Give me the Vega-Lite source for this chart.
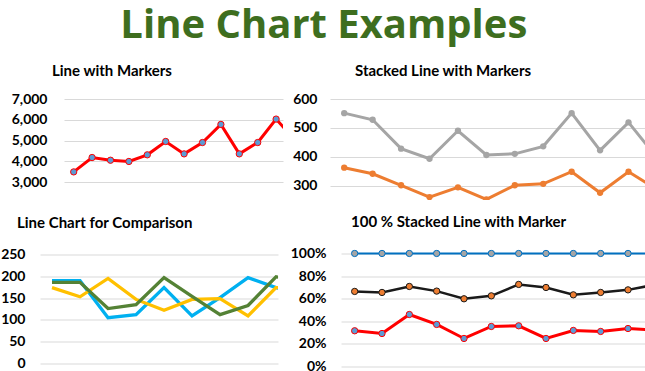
{
  "$schema": "https://vega.github.io/schema/vega-lite/v6.json",
  "padding": {"top": 5, "left": 0, "right": 0, "bottom": 0},
  "background": "white",
  "title": {"text": "Line Chart Examples", "font": "Open Sans", "fontSize": 40, "fontWeight": "bold", "color": "#3e6e1f", "anchor": "middle", "frame": "bounds", "offset": 18},
  "config": {
    "font": "Lato",
    "view": {"stroke": null},
    "axis": {"grid": true, "gridColor": "#d9d9d9", "gridWidth": 1, "domain": false, "ticks": false, "tickSize": 0, "labelFont": "Lato", "labelFontSize": 14, "labelFontWeight": "bold", "labelColor": "#000000", "title": null},
    "title": {"font": "Lato", "fontSize": 15, "fontWeight": "bold", "color": "#000000", "anchor": "start", "frame": "group"}
  },
  "resolve": {"scale": {"color": "independent", "stroke": "independent", "fill": "independent", "strokeWidth": "independent"}},
  "datasets": {
    "tl": [
      {"i": 1, "v": 3500}, {"i": 2, "v": 4190}, {"i": 3, "v": 4060}, {"i": 4, "v": 4000},
      {"i": 5, "v": 4320}, {"i": 6, "v": 4960}, {"i": 7, "v": 4365}, {"i": 8, "v": 4910},
      {"i": 9, "v": 5780}, {"i": 10, "v": 4365}, {"i": 11, "v": 4910}, {"i": 12, "v": 6035},
      {"i": 13, "v": 5060}
    ],
    "tr": [
      {"i": 1, "s": "Total", "v": 551}, {"i": 2, "s": "Total", "v": 528}, {"i": 3, "s": "Total", "v": 428},
      {"i": 4, "s": "Total", "v": 393}, {"i": 5, "s": "Total", "v": 490}, {"i": 6, "s": "Total", "v": 406},
      {"i": 7, "s": "Total", "v": 410}, {"i": 8, "s": "Total", "v": 436}, {"i": 9, "s": "Total", "v": 551},
      {"i": 10, "s": "Total", "v": 422}, {"i": 11, "s": "Total", "v": 519}, {"i": 12, "s": "Total", "v": 396},
      {"i": 1, "s": "Base", "v": 362}, {"i": 2, "s": "Base", "v": 341}, {"i": 3, "s": "Base", "v": 301},
      {"i": 4, "s": "Base", "v": 260}, {"i": 5, "s": "Base", "v": 294}, {"i": 6, "s": "Base", "v": 252},
      {"i": 7, "s": "Base", "v": 301}, {"i": 8, "s": "Base", "v": 306}, {"i": 9, "s": "Base", "v": 348},
      {"i": 10, "s": "Base", "v": 275}, {"i": 11, "s": "Base", "v": 348}, {"i": 12, "s": "Base", "v": 286}
    ],
    "bl": [
      {"i": 1, "s": "A", "v": 190}, {"i": 2, "s": "A", "v": 190}, {"i": 3, "s": "A", "v": 105}, {"i": 4, "s": "A", "v": 112},
      {"i": 5, "s": "A", "v": 174}, {"i": 6, "s": "A", "v": 109}, {"i": 7, "s": "A", "v": 151}, {"i": 8, "s": "A", "v": 197},
      {"i": 9, "s": "A", "v": 174}, {"i": 10, "s": "A", "v": 160},
      {"i": 1, "s": "B", "v": 174}, {"i": 2, "s": "B", "v": 153}, {"i": 3, "s": "B", "v": 195}, {"i": 4, "s": "B", "v": 147},
      {"i": 5, "s": "B", "v": 122}, {"i": 6, "s": "B", "v": 147}, {"i": 7, "s": "B", "v": 149}, {"i": 8, "s": "B", "v": 109},
      {"i": 9, "s": "B", "v": 174}, {"i": 10, "s": "B", "v": 185},
      {"i": 1, "s": "C", "v": 186}, {"i": 2, "s": "C", "v": 186}, {"i": 3, "s": "C", "v": 126}, {"i": 4, "s": "C", "v": 135},
      {"i": 5, "s": "C", "v": 197}, {"i": 6, "s": "C", "v": 154}, {"i": 7, "s": "C", "v": 112}, {"i": 8, "s": "C", "v": 133},
      {"i": 9, "s": "C", "v": 199}, {"i": 10, "s": "C", "v": 185}
    ],
    "br": [
      {"i": 1, "s": "Top", "v": 1}, {"i": 2, "s": "Top", "v": 1}, {"i": 3, "s": "Top", "v": 1}, {"i": 4, "s": "Top", "v": 1},
      {"i": 5, "s": "Top", "v": 1}, {"i": 6, "s": "Top", "v": 1}, {"i": 7, "s": "Top", "v": 1}, {"i": 8, "s": "Top", "v": 1},
      {"i": 9, "s": "Top", "v": 1}, {"i": 10, "s": "Top", "v": 1}, {"i": 11, "s": "Top", "v": 1}, {"i": 12, "s": "Top", "v": 1},
      {"i": 1, "s": "Mid", "v": 0.664}, {"i": 2, "s": "Mid", "v": 0.655}, {"i": 3, "s": "Mid", "v": 0.708}, {"i": 4, "s": "Mid", "v": 0.667},
      {"i": 5, "s": "Mid", "v": 0.599}, {"i": 6, "s": "Mid", "v": 0.625}, {"i": 7, "s": "Mid", "v": 0.726}, {"i": 8, "s": "Mid", "v": 0.699},
      {"i": 9, "s": "Mid", "v": 0.634}, {"i": 10, "s": "Mid", "v": 0.655}, {"i": 11, "s": "Mid", "v": 0.678}, {"i": 12, "s": "Mid", "v": 0.724},
      {"i": 1, "s": "Low", "v": 0.316}, {"i": 2, "s": "Low", "v": 0.292}, {"i": 3, "s": "Low", "v": 0.46}, {"i": 4, "s": "Low", "v": 0.372},
      {"i": 5, "s": "Low", "v": 0.248}, {"i": 6, "s": "Low", "v": 0.354}, {"i": 7, "s": "Low", "v": 0.36}, {"i": 8, "s": "Low", "v": 0.248},
      {"i": 9, "s": "Low", "v": 0.319}, {"i": 10, "s": "Low", "v": 0.31}, {"i": 11, "s": "Low", "v": 0.336}, {"i": 12, "s": "Low", "v": 0.323}
    ]
  },
  "spacing": 14.5,
  "vconcat": [
    {
      "spacing": 1,
      "resolve": {"scale": {"color": "independent", "stroke": "independent", "fill": "independent", "strokeWidth": "independent"}},
      "hconcat": [
        {
          "width": 243, "height": 101,
          "title": {"text": "Line with Markers", "dx": 12, "offset": 13.5},
          "data": {"name": "tl"},
          "encoding": {
            "x": {"field": "i", "type": "quantitative", "scale": {"domain": [-0.8315, 12.375], "nice": false, "zero": false}, "axis": null},
            "y": {"field": "v", "type": "quantitative", "scale": {"domain": [2150, 7000], "nice": false, "zero": false},
                  "axis": {"values": [3000, 4000, 5000, 6000, 7000], "format": ",.0f", "labelPadding": -7, "gridDash": [0, 24, 1000, 0]}}
          },
          "layer": [
            {"mark": {"type": "line", "stroke": "#ff0000", "strokeWidth": 3, "clip": true}},
            {"mark": {"type": "circle", "fill": "#5b9bd5", "stroke": "#ff0000", "strokeWidth": 1, "size": 40, "opacity": 1, "fillOpacity": 1, "clip": true}}
          ]
        },
        {
          "width": 317, "height": 101,
          "title": {"text": "Stacked Line with Markers", "dx": 25, "offset": 13.5},
          "data": {"name": "tr"},
          "encoding": {
            "x": {"field": "i", "type": "quantitative", "scale": {"domain": [0.5, 11.65], "nice": false, "zero": false}, "axis": null},
            "y": {"field": "v", "type": "quantitative", "scale": {"domain": [250, 600], "nice": false, "zero": false},
                  "axis": {"values": [300, 400, 500, 600], "labelPadding": 13, "minExtent": 46, "maxExtent": 46}},
            "color": {"field": "s", "type": "nominal", "scale": {"domain": ["Total", "Base"], "range": ["#a5a5a5", "#ed7d31"]}, "legend": null}
          },
          "layer": [
            {"mark": {"type": "line", "strokeWidth": 3, "clip": true}},
            {"mark": {"type": "circle", "size": 40, "opacity": 1, "clip": true}}
          ]
        }
      ]
    },
    {
      "spacing": 1,
      "resolve": {"scale": {"color": "independent", "stroke": "independent", "fill": "independent", "strokeWidth": "independent"}},
      "hconcat": [
        {
          "width": 238, "height": 114,
          "title": {"text": "Line Chart for Comparison", "dx": -23, "offset": 16.5},
          "data": {"name": "bl"},
          "encoding": {
            "x": {"field": "i", "type": "quantitative", "scale": {"domain": [0.571, 9.07], "nice": false, "zero": false}, "axis": null},
            "y": {"field": "v", "type": "quantitative", "scale": {"domain": [0, 261.5], "nice": false, "zero": false},
                  "axis": {"values": [0, 50, 100, 150, 200, 250], "labelPadding": 15, "minExtent": 38, "maxExtent": 38}},
            "color": {"field": "s", "type": "nominal", "scale": {"domain": ["A", "B", "C"], "range": ["#00b0f0", "#ffc000", "#548235"]}, "legend": null}
          },
          "layer": [
            {"mark": {"type": "line", "strokeWidth": 3.3, "clip": true}}
          ]
        },
        {
          "width": 306, "height": 117,
          "title": {"text": "100 % Stacked Line with Marker", "dx": 10, "offset": 16.5},
          "data": {"name": "br"},
          "encoding": {
            "x": {"field": "i", "type": "quantitative", "scale": {"domain": [0.5, 11.695], "nice": false, "zero": false}, "axis": null},
            "y": {"field": "v", "type": "quantitative", "scale": {"domain": [0, 1.035], "nice": false, "zero": false},
                  "axis": {"values": [0, 0.2, 0.4, 0.6, 0.8, 1], "format": ".0%", "labelPadding": 15, "minExtent": 62, "maxExtent": 62}},
            "stroke": {"field": "s", "type": "nominal", "scale": {"domain": ["Top", "Mid", "Low"], "range": ["#0070c0", "#1a1a1a", "#ff0000"]}, "legend": null}
          },
          "layer": [
            {"mark": {"type": "line", "clip": true},
             "encoding": {"strokeWidth": {"field": "s", "type": "nominal", "scale": {"domain": ["Top", "Mid", "Low"], "range": [2, 3, 3]}, "legend": null}}},
            {"mark": {"type": "circle", "size": 40, "opacity": 1, "strokeWidth": 1, "clip": true},
             "encoding": {"fill": {"field": "s", "type": "nominal", "scale": {"domain": ["Top", "Mid", "Low"], "range": ["#a5a5a5", "#ed7d31", "#5b9bd5"]}, "legend": null}}}
          ]
        }
      ]
    }
  ]
}
